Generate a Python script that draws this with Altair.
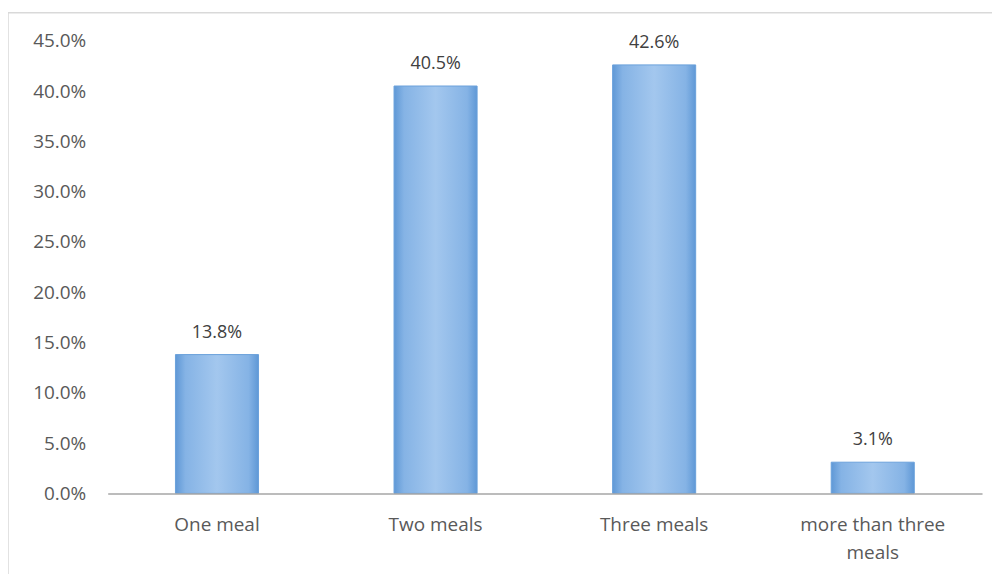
import altair as alt
import pandas as pd

categories = ["One meal", "Two meals", "Three meals", "more than three meals"]
values = [13.8, 40.5, 42.6, 3.1]
y_ticks = [0, 5, 10, 15, 20, 25, 30, 35, 40, 45]

df = pd.DataFrame({"cat": categories, "val": [v / 100 for v in values]})

FONT = "Open Sans"
GRAY = "#595959"

x_enc = alt.X(
    "cat:N", sort=categories, title=None,
    scale=alt.Scale(paddingInner=0.62, paddingOuter=0.31),
    axis=alt.Axis(
        labelAngle=0, labelFont=FONT, labelFontSize=19, labelColor=GRAY,
        labelPadding=22, labelLineHeight=28, ticks=False, zindex=1,
        domainColor="#a6a6a6", domainWidth=1.5,
        labelExpr="datum.label == 'more than three meals' ? ['more than three', 'meals'] : datum.label",
    ),
)
y_enc = alt.Y(
    "val:Q", title=None,
    scale=alt.Scale(domain=[0, 0.45], nice=False),
    axis=alt.Axis(
        values=[t / 100 for t in y_ticks], format=".1%", grid=False, domain=False,
        ticks=False, labelFont=FONT, labelFontSize=19, labelColor=GRAY, labelPadding=22,
        zindex=1,
    ),
)

frame = alt.Chart(pd.DataFrame({"a": [0]})).mark_rect(
    filled=False, stroke="#d9d9d9", strokeWidth=1.5
).encode(
    x=alt.value(-100), x2=alt.value(1000), y=alt.value(-28), y2=alt.value(700)
)

grad = alt.Gradient(
    gradient="linear", x1=0, x2=1, y1=0, y2=0,
    stops=[
        alt.GradientStop(offset=0, color="#5f98d6"),
        alt.GradientStop(offset=0.12, color="#85b3e5"),
        alt.GradientStop(offset=0.5, color="#a3c7ee"),
        alt.GradientStop(offset=0.88, color="#85b3e5"),
        alt.GradientStop(offset=1, color="#5f98d6"),
    ],
)

bars = alt.Chart(df).mark_bar(color=grad, stroke="#6aa1db", strokeWidth=1).encode(
    x=x_enc, y=y_enc
)

labels = alt.Chart(df).mark_text(
    dy=-22, font=FONT, fontSize=18, color="#404040"
).encode(
    x=alt.X("cat:N", sort=categories),
    y="val:Q",
    text=alt.Text("val:Q", format=".1%"),
)

chart = alt.layer(frame, bars, labels).properties(
    width=877, height=454,
    autosize=alt.AutoSizeParams(type="none"),
    padding={"left": 100, "top": 32, "right": 10, "bottom": 80},
    background="white",
).configure_view(stroke=None)

chart.save("out.html", embed_options={"renderer": "svg", "actions": False})
